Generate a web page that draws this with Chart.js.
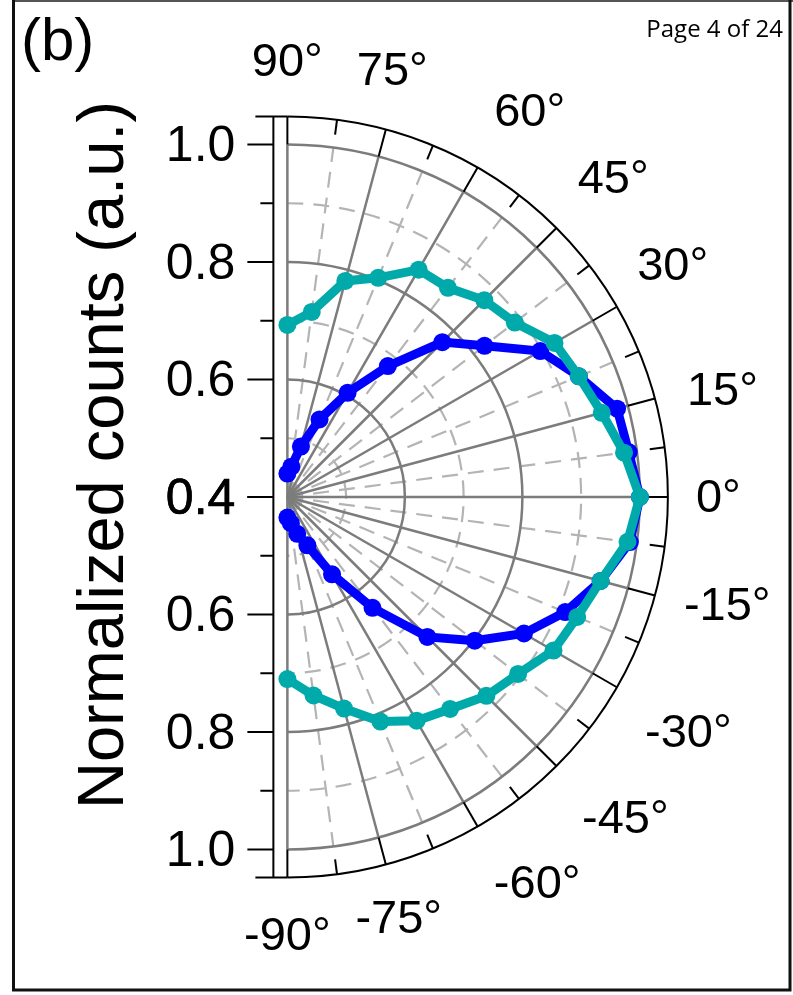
<!DOCTYPE html>
<html>
<head>
<meta charset="utf-8">
<script src="https://cdn.jsdelivr.net/npm/chart.js@4.4.0/dist/chart.umd.min.js"></script>
<style>
  html, body { margin: 0; padding: 0; background: #fff; }
  #wrap { position: relative; width: 793px; height: 995px; }
</style>
</head>
<body>
<div id="wrap"><canvas id="myChart" width="793" height="995"></canvas></div>
<script>
//data
const angles = [90, 82.5, 75, 67.5, 60, 52.5, 45, 37.5, 30, 22.5, 15, 7.5, 0,
  -7.5, -15, -22.5, -30, -37.5, -45, -52.5, -60, -67.5, -75, -82.5, -90];
const cyanCounts = [0.693, 0.718, 0.781, 0.804, 0.847, 0.849, 0.874, 0.888, 0.925, 0.937, 0.954, 0.978, 1.0,
  0.984, 0.952, 0.934, 0.923, 0.895, 0.879, 0.855, 0.840, 0.814, 0.773, 0.741, 0.710];
const blueCounts = [0.440, 0.452, 0.489, 0.543, 0.605, 0.681, 0.773, 0.823, 0.897, 0.937, 0.981, 0.986, 1.0,
  0.988, 0.952, 0.912, 0.865, 0.802, 0.737, 0.638, 0.552, 0.489, 0.465, 0.445, 0.435];

//axes
const angleTicks = [90, 75, 60, 45, 30, 15, 0, -15, -30, -45, -60, -75, -90];
const radialMajor = [1.0, 0.8, 0.6, 0.4];
const radialMinor = [0.9, 0.7, 0.5];
const R_MIN = 0.4;
const R_MAX = 1.0;

const toXY = (angle, r) => {
  const a = angle * Math.PI / 180;
  return { x: (r - R_MIN) * Math.cos(a), y: (r - R_MIN) * Math.sin(a) };
};

const FONT = '"Liberation Sans", Arial, sans-serif';

// where each angle label sits: [distance from centre in px, direction in degrees]
const angleLabelSpots = [[436, 90], [440, 76.2], [456, 57.9], [456, 44.4], [450, 31.1], [448, 13.8], [431, 0],
  [453, -13.8], [465, -30.4], [466, -43.5], [460, -57.1], [436, -75.2], [438, -90]];

const polarGrid = {
  id: 'polarGrid',
  beforeDatasetsDraw(chart) {
    const { ctx, scales: { x, y } } = chart;
    const cx = x.getPixelForValue(0);
    const cy = y.getPixelForValue(0);
    const rad = r => x.getPixelForValue(r - R_MIN) - cx;
    const R1 = rad(R_MAX);
    const R2 = R1 + 28;
    const pt = (deg, R) => {
      const a = deg * Math.PI / 180;
      return [cx + R * Math.cos(a), cy - R * Math.sin(a)];
    };
    const seg = (p, q) => { ctx.beginPath(); ctx.moveTo(p[0], p[1]); ctx.lineTo(q[0], q[1]); ctx.stroke(); };
    const halfArc = R => { ctx.beginPath(); ctx.arc(cx, cy, R, -Math.PI / 2, Math.PI / 2); ctx.stroke(); };

    ctx.save();
    ctx.lineCap = 'butt';

    // minor grid, dashed
    ctx.strokeStyle = '#b4b4b4';
    ctx.lineWidth = 2.2;
    ctx.setLineDash([16, 10]);
    radialMinor.forEach(r => halfArc(rad(r)));
    for (let a = -82.5; a < 90; a += 15) seg(pt(a, 0), pt(a, R1));

    // major grid
    ctx.setLineDash([]);
    ctx.strokeStyle = '#7c7c7c';
    ctx.lineWidth = 2.5;
    radialMajor.filter(r => r > R_MIN).forEach(r => halfArc(rad(r)));
    angleTicks.forEach(a => seg(pt(a, 0), pt(a, R1)));

    // outer ring with ticks
    ctx.strokeStyle = '#000';
    ctx.lineWidth = 2;
    halfArc(R2);
    angleTicks.forEach(a => seg(pt(a, R1), pt(a, R2)));
    for (let a = -82.5; a < 90; a += 15) seg(pt(a, R2 - 15), pt(a, R2));
    seg([cx - 32, cy - R2], [cx, cy - R2]);
    seg([cx - 32, cy + R2], [cx, cy + R2]);

    // radial axis on the left
    const ax = cx - 14;
    seg([ax, cy - R2], [ax, cy + R2]);
    ctx.fillStyle = '#000';
    ctx.font = '50px ' + FONT;
    ctx.textAlign = 'right';
    ctx.textBaseline = 'middle';
    radialMajor.forEach(r => {
      [-1, 1].forEach(s => {
        const ty = cy + s * rad(r);
        seg([ax - 26, ty], [ax, ty]);
        ctx.fillText(r.toFixed(1), ax - 38, ty + 3);
      });
    });
    // the centre label is printed by both halves, so it comes out a touch heavier
    ctx.lineWidth = 0.6;
    ctx.strokeText(R_MIN.toFixed(1), ax - 38, cy + 3);
    ctx.lineWidth = 2;
    radialMinor.forEach(r => {
      [-1, 1].forEach(s => {
        const ty = cy + s * rad(r);
        seg([ax - 13, ty], [ax, ty]);
      });
    });

    // angle labels
    ctx.font = '47px ' + FONT;
    ctx.textAlign = 'center';
    angleTicks.forEach((a, i) => {
      const [d, dir] = angleLabelSpots[i];
      const p = pt(dir, d);
      ctx.fillText(a + '\u00b0', p[0], p[1] + 2);
    });

    // axis title
    ctx.save();
    ctx.translate(123, cy - 42);
    ctx.rotate(-Math.PI / 2);
    ctx.font = '65px ' + FONT;
    ctx.textAlign = 'center';
    ctx.textBaseline = 'alphabetic';
    ctx.fillText('Normalized counts (a.u.)', 0, 0);
    ctx.restore();

    ctx.restore();
  },
  afterDraw(chart) {
    const { ctx } = chart;
    ctx.save();
    ctx.fillStyle = '#000';
    ctx.font = '60px ' + FONT;
    ctx.textAlign = 'left';
    ctx.textBaseline = 'alphabetic';
    ctx.fillText('(b)', 21, 60);
    ctx.font = '24px "Open Sans", sans-serif';
    ctx.textAlign = 'right';
    ctx.fillText('Page 4 of 24', 783, 37);

    // frame
    ctx.strokeStyle = '#555';
    ctx.lineWidth = 2;
    ctx.beginPath(); ctx.moveTo(13, 1); ctx.lineTo(793, 1); ctx.stroke();
    ctx.strokeStyle = '#111';
    ctx.lineWidth = 3;
    ctx.beginPath(); ctx.moveTo(13.5, 0); ctx.lineTo(13.5, 990); ctx.lineTo(790, 990); ctx.lineTo(790, 0); ctx.stroke();
    ctx.restore();
  }
};

new Chart(document.getElementById('myChart'), {
  type: 'scatter',
  data: {
    datasets: [
      {
        label: 'cyan',
        data: angles.map((a, i) => toXY(a, cyanCounts[i])),
        showLine: true,
        borderColor: '#00aaaa',
        backgroundColor: '#00aaaa',
        borderWidth: 9,
        pointRadius: 9,
        pointBorderWidth: 0,
        order: 0
      },
      {
        label: 'blue',
        data: angles.map((a, i) => toXY(a, blueCounts[i])),
        showLine: true,
        borderColor: '#0000ff',
        backgroundColor: '#0000ff',
        borderWidth: 9,
        pointRadius: 9,
        pointBorderWidth: 0,
        order: 1
      }
    ]
  },
  options: {
    responsive: false,
    maintainAspectRatio: false,
    animation: false,
    layout: { padding: { left: 258, right: 65, top: 86, bottom: 87 } },
    scales: {
      x: { type: 'linear', min: -0.05, max: 0.75, display: false },
      y: { type: 'linear', min: -0.7, max: 0.7, display: false }
    },
    plugins: {
      legend: { display: false },
      tooltip: { enabled: false }
    }
  },
  plugins: [polarGrid]
});
</script>
</body>
</html>
